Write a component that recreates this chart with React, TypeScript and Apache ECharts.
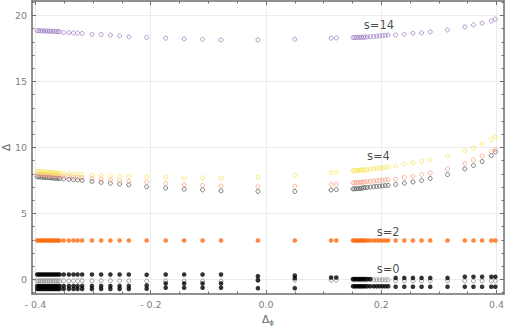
import React, { useEffect, useRef } from "react";
import * as echarts from "echarts";

// Δϕ positions of the sampled points (shared by every series)
const dphi = [
  -0.397, -0.394, -0.391, -0.388, -0.385, -0.382, -0.379, -0.376, -0.373, -0.37, -0.367, -0.364, -0.361, -0.358,
  -0.351, -0.342, -0.334, -0.327, -0.319, -0.302, -0.286, -0.27, -0.254, -0.238, -0.207, -0.174, -0.142, -0.11, -0.078, -0.014, 0.05, 0.113, 0.122,
  0.151, 0.154, 0.157, 0.16, 0.163, 0.166, 0.169, 0.172, 0.176, 0.181, 0.187, 0.192, 0.197, 0.202, 0.207, 0.212,
  0.225, 0.24, 0.255, 0.27, 0.285, 0.315, 0.345, 0.36, 0.375, 0.391, 0.398,
];

// s = 14 (purple, open)
const s14 = [
  18.85, 18.85, 18.84, 18.84, 18.83, 18.83, 18.82, 18.82, 18.81, 18.8, 18.8, 18.79, 18.78, 18.77,
  18.72, 18.7, 18.68, 18.66, 18.64, 18.58, 18.55, 18.52, 18.46, 18.38, 18.35, 18.28, 18.23, 18.2, 18.15, 18.15, 18.2, 18.28, 18.3,
  18.33, 18.33, 18.34, 18.34, 18.35, 18.35, 18.36, 18.36, 18.38, 18.4, 18.42, 18.44, 18.46, 18.48, 18.5, 18.52,
  18.53, 18.58, 18.66, 18.68, 18.76, 18.91, 19.14, 19.29, 19.42, 19.59, 19.72,
];

// s = 4 (three open branches)
const s4Yellow = [
  8.18, 8.17, 8.16, 8.15, 8.14, 8.13, 8.12, 8.11, 8.1, 8.09, 8.08, 8.07, 8.06, 8.05,
  8.03, 8.01, 7.99, 7.97, 7.95, 7.9, 7.88, 7.86, 7.84, 7.82, 7.77, 7.74, 7.71, 7.7, 7.7, 7.75, 7.9, 8.1, 8.14,
  8.24, 8.25, 8.26, 8.27, 8.28, 8.29, 8.3, 8.31, 8.33, 8.36, 8.39, 8.42, 8.44, 8.47, 8.5, 8.53,
  8.6, 8.73, 8.83, 8.94, 9.06, 9.36, 9.72, 9.97, 10.27, 10.6, 10.8,
];
const s4Salmon = [
  7.98, 7.97, 7.96, 7.95, 7.94, 7.93, 7.92, 7.91, 7.9, 7.89, 7.88, 7.87, 7.86, 7.85,
  7.82, 7.79, 7.76, 7.74, 7.72, 7.66, 7.6, 7.54, 7.48, 7.43, 7.37, 7.28, 7.17, 7.14, 7.08, 7.02, 7.07, 7.2, 7.23,
  7.32, 7.33, 7.34, 7.35, 7.36, 7.37, 7.38, 7.4, 7.42, 7.44, 7.46, 7.48, 7.5, 7.52, 7.54, 7.56,
  7.6, 7.73, 7.83, 7.95, 8.08, 8.38, 8.79, 9.06, 9.36, 9.67, 9.85,
];
const s4Dark = [
  7.78, 7.77, 7.76, 7.75, 7.74, 7.73, 7.72, 7.71, 7.7, 7.69, 7.68, 7.67, 7.66, 7.65,
  7.62, 7.59, 7.56, 7.54, 7.51, 7.43, 7.36, 7.29, 7.23, 7.17, 7.03, 6.94, 6.84, 6.79, 6.71, 6.67, 6.67, 6.78, 6.81,
  6.86, 6.87, 6.88, 6.89, 6.9, 6.92, 6.94, 6.96, 6.98, 7.0, 7.03, 7.05, 7.07, 7.09, 7.11, 7.13,
  7.2, 7.3, 7.39, 7.5, 7.65, 7.95, 8.38, 8.64, 8.94, 9.39, 9.67,
];

// s = 2 (orange, filled)
const s2 = [
  2.95, 2.95, 2.95, 2.95, 2.95, 2.95, 2.95, 2.95, 2.95, 2.95, 2.95, 2.95, 2.95, 2.95,
  2.95, 2.95, 2.95, 2.95, 2.95, 2.95, 2.95, 2.95, 2.95, 2.95, 2.95, 2.95, 2.95, 2.95, 2.95, 2.95, 2.95, 2.95, 2.95,
  2.95, 2.95, 2.95, 2.95, 2.95, 2.95, 2.95, 2.95, 2.95, 2.95, 2.95, 2.95, 2.95, 2.95, 2.95, 2.95,
  2.95, 2.95, 2.95, 2.95, 2.95, 2.95, 2.95, 2.95, 2.95, 2.95, 2.95,
];

// s = 0 (black filled rows and a grey open row); null = no point
const s0Top = [
  0.38, 0.38, 0.38, 0.38, 0.38, 0.38, 0.38, 0.38, 0.38, 0.38, 0.38, 0.38, 0.38, 0.38,
  0.38, 0.38, 0.38, 0.38, 0.38, 0.38, 0.38, 0.38, 0.38, 0.38, 0.36, 0.38, 0.38, 0.37, 0.37, 0.25, 0.3, 0.15, 0.15,
  0.03, 0.03, 0.03, 0.03, 0.03, 0.03, 0.03, 0.03, 0.03, 0.03, null, null, null, null, null, null,
  0.12, 0.12, 0.12, 0.12, 0.12, 0.12, 0.2, 0.2, 0.2, 0.2, 0.2,
];
const s0Open = [
  -0.1, -0.1, -0.1, -0.1, -0.1, -0.1, -0.1, -0.1, -0.1, -0.1, -0.1, -0.1, -0.1, -0.1,
  -0.1, -0.1, -0.1, -0.1, -0.1, -0.1, -0.1, -0.1, -0.1, -0.1, -0.12, -0.12, -0.12, -0.12, -0.12, -0.05, -0.05, -0.05, -0.05,
  -0.02, -0.02, -0.02, -0.02, -0.02, -0.02, -0.02, -0.02, -0.02, -0.02, -0.02, -0.02, -0.02, -0.02, -0.02, -0.02,
  -0.1, -0.1, -0.1, -0.1, -0.1, -0.1, -0.1, -0.1, -0.1, -0.1, -0.1,
];
const s0Mid = [
  -0.5, -0.5, -0.5, -0.5, -0.5, -0.5, -0.5, -0.5, -0.5, -0.5, -0.5, -0.5, -0.5, -0.5,
  -0.5, -0.5, -0.5, -0.5, -0.5, -0.5, -0.5, -0.5, -0.5, -0.5, -0.45, -0.3, -0.3, -0.3, -0.3, -0.05, 0.1, null, null,
  -0.52, -0.52, -0.52, -0.52, -0.52, -0.52, -0.52, -0.52, -0.52, -0.52, -0.52, -0.52, -0.52, -0.52, -0.52, -0.52,
  -0.55, -0.55, -0.55, -0.55, -0.55, -0.55, -0.55, -0.55, -0.55, -0.55, -0.55,
];
const s0Low = [
  -0.72, -0.72, -0.72, -0.72, -0.72, -0.72, -0.72, -0.72, -0.72, -0.72, -0.72, -0.72, -0.72, -0.72,
  -0.72, -0.72, -0.72, -0.72, -0.72, -0.72, -0.72, -0.72, -0.72, -0.72, -0.7, -0.62, -0.62, -0.62, -0.62, -0.66, -0.66, null, null,
  null, null, null, null, null, null, null, null, null, null, null, null, null, null, null, null,
  null, null, null, null, null, null, null, null, null, null, null,
];

const xMajor = [-0.4, -0.2, 0, 0.2, 0.4];
const xMinor = [-0.4, -0.35, -0.3, -0.25, -0.2, -0.15, -0.1, -0.05, 0, 0.05, 0.1, 0.15, 0.2, 0.25, 0.3, 0.35, 0.4];
const yMajor = [0, 5, 10, 15, 20];
const yMinor = [-1, 0, 1, 2, 3, 4, 5, 6, 7, 8, 9, 10, 11, 12, 13, 14, 15, 16, 17, 18, 19, 20, 21];

const annotations = [
  { name: "s=14", x: 0.196, y: 19.27 },
  { name: "s=4", x: 0.195, y: 9.34 },
  { name: "s=2", x: 0.212, y: 3.58 },
  { name: "s=0", x: 0.212, y: 0.83 },
];

const XMIN = -0.406;
const XMAX = 0.413;
const YMIN = -1.1;
const YMAX = 21.1;

const FRAME = "#6e6e6e";
const FONT = "DejaVu Sans";

function pairs(ys: (number | null)[]) {
  const out: number[][] = [];
  dphi.forEach((x, i) => {
    const y = ys[i];
    if (y !== null && y !== undefined) out.push([x, y]);
  });
  return out;
}

function openSeries(ys: (number | null)[], color: string) {
  return {
    type: "scatter",
    data: pairs(ys),
    symbol: "circle",
    symbolSize: 4,
    itemStyle: { color: "rgba(0,0,0,0)", borderColor: color, borderWidth: 1 },
    silent: true,
  };
}
function filledSeries(ys: (number | null)[], color: string) {
  return {
    type: "scatter",
    data: pairs(ys),
    symbol: "circle",
    symbolSize: 4.6,
    itemStyle: { color, borderWidth: 0 },
    silent: true,
  };
}

function xFmt(v: number) {
  if (Math.abs(v) < 1e-9) return "0.0";
  return v < 0 ? "- " + Math.abs(v).toFixed(1) : v.toFixed(1);
}

function App() {
  const ref = useRef<HTMLDivElement>(null);
  useEffect(() => {
    if (!ref.current) return;
    const chart = echarts.init(ref.current, null, { renderer: "svg" });
    const baseX = { type: "value", min: XMIN, max: XMAX, gridIndex: 0 };
    const baseY = { type: "value", min: YMIN, max: YMAX, gridIndex: 0 };
    const tickStyle = { color: FRAME, width: 1 };
    chart.setOption({
      animation: false,
      backgroundColor: "#ffffff",
      grid: { left: 32, right: 2, top: 1, bottom: 33, containLabel: false, outerBoundsMode: "none" },
      xAxis: [
        {
          ...baseX,
          position: "bottom",
          axisLine: { show: true, onZero: false, lineStyle: { color: FRAME, width: 1.5 } },
          axisTick: { show: true, inside: true, length: 4, customValues: xMajor, lineStyle: tickStyle },
          axisLabel: { show: true, customValues: xMajor, formatter: xFmt, color: "#808080", fontSize: 9.5, fontFamily: FONT, margin: 5 },
          splitLine: { show: true, lineStyle: { color: "#ececec", width: 1 } },
          name: "{a|Δ}{b|ϕ}",
          nameLocation: "middle",
          nameGap: 18,
          nameTextStyle: {
            rich: {
              a: { fontSize: 10.5, fontFamily: FONT, color: "#666666" },
              b: { fontSize: 7, fontFamily: FONT, color: "#666666", padding: [7, 0, 0, 0] },
            },
          },
        },
        {
          ...baseX,
          position: "bottom",
          axisLine: { show: false, onZero: false },
          axisTick: { show: true, inside: true, length: 2.5, customValues: xMinor, lineStyle: tickStyle },
          axisLabel: { show: false },
          splitLine: { show: false },
        },
        {
          ...baseX,
          position: "top",
          axisLine: { show: true, onZero: false, lineStyle: { color: FRAME, width: 1.5 } },
          axisTick: { show: true, inside: true, length: 4, customValues: xMajor, lineStyle: tickStyle },
          axisLabel: { show: false },
          splitLine: { show: false },
        },
        {
          ...baseX,
          position: "top",
          axisLine: { show: false, onZero: false },
          axisTick: { show: true, inside: true, length: 2.5, customValues: xMinor, lineStyle: tickStyle },
          axisLabel: { show: false },
          splitLine: { show: false },
        },
      ],
      yAxis: [
        {
          ...baseY,
          position: "left",
          axisLine: { show: true, onZero: false, lineStyle: { color: FRAME, width: 1.5 } },
          axisTick: { show: true, inside: true, length: 4, customValues: yMajor, lineStyle: tickStyle },
          axisLabel: { show: true, customValues: yMajor, color: "#808080", fontSize: 9.5, fontFamily: FONT, margin: 5 },
          splitLine: { show: true, lineStyle: { color: "#ececec", width: 1 } },
          name: "Δ",
          nameLocation: "middle",
          nameGap: 21,
          nameMoveOverlap: false,
          nameTextStyle: { fontSize: 10.5, fontFamily: FONT, color: "#666666" },
        },
        {
          ...baseY,
          position: "left",
          axisLine: { show: false, onZero: false },
          axisTick: { show: true, inside: true, length: 2.5, customValues: yMinor, lineStyle: tickStyle },
          axisLabel: { show: false },
          splitLine: { show: false },
        },
        {
          ...baseY,
          position: "right",
          axisLine: { show: true, onZero: false, lineStyle: { color: FRAME, width: 1.5 } },
          axisTick: { show: true, inside: true, length: 4, customValues: yMajor, lineStyle: tickStyle },
          axisLabel: { show: false },
          splitLine: { show: false },
        },
        {
          ...baseY,
          position: "right",
          axisLine: { show: false, onZero: false },
          axisTick: { show: true, inside: true, length: 2.5, customValues: yMinor, lineStyle: tickStyle },
          axisLabel: { show: false },
          splitLine: { show: false },
        },
      ],
      series: [
        openSeries(s14, "#a07fc6"),
        openSeries(s4Dark, "#5a5a5a"),
        openSeries(s4Salmon, "#f7a187"),
        openSeries(s4Yellow, "#f7e552"),
        filledSeries(s2, "#ff6a0d"),
        openSeries(s0Open, "#8a8a8a"),
        filledSeries(s0Top, "#000000"),
        filledSeries(s0Mid, "#000000"),
        filledSeries(s0Low, "#000000"),
        {
          type: "scatter",
          silent: true,
          symbolSize: 0,
          data: annotations.map((a) => ({ name: a.name, value: [a.x, a.y] })),
          label: {
            show: true,
            position: "inside",
            formatter: (p: any) => p.name,
            color: "#1a1a1a",
            fontSize: 11.5,
            fontFamily: FONT,
          },
        },
      ],
    });
    return () => chart.dispose();
  }, []);
  return <div ref={ref} style={{ width: 506, height: 327, position: "absolute", left: 0, top: 0 }} />;
}

export default App;
